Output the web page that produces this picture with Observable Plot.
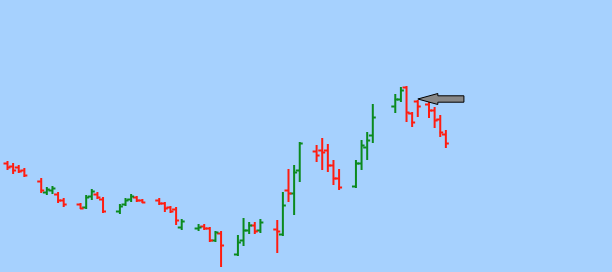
<!DOCTYPE html>
<html>
<head>
<meta charset="utf-8">
<script src="https://cdn.jsdelivr.net/npm/d3@7"></script>
<script src="https://cdn.jsdelivr.net/npm/@observablehq/plot@0.6"></script>
<style>
  html, body { margin: 0; padding: 0; background: #a6d1fe; }
  #chart svg { display: block; }
</style>
</head>
<body>
<div id="chart"></div>
<script>
// Session offsets (calendar days from the first bar)
const day = [0,1,2,3, 6,7,8,9,10, 13,14,15,16,17, 20,21,22,23,24, 27,28,29,30,31,
             34,35,36,37,38, 41,42,43,44,45, 48,49,50,51,52, 55,56,57,58,59,
             62,63,64,65, 69,70,71,72,73, 75,76,77,78];
const open  = [154.5,153,152.5,151, 145.5,140,141,139,136, 134,132.5,138,139,136.5,
               130.5,134,136.5,137.5,136, 136,134.5,132.5,131.5,122.5,
               122,123,122,116,119.5, 109,116,121,123.5,121, 121.5,119,141,139.5,151,
               160.5,161,161,153.5,147, 143,154.5,162.5,168.5, 183,186.5,192.5,179.5,185.5,
               184,181,176.5,169];
const high  = [155.5,154.5,153.5,152, 147,142.5,143,140,137, 134.5,138.5,141.5,140,137.5,
               134,137,139,138,136.5, 137,135,133,132.5,126.5,
               124,124,122.5,120.5,120.5, 118.5,127,125,125,126.5, 126,140,151.5,153.5,165,
               163.5,167,164,156,151.5, 156,166,170,184, 189,192.5,193,180,186,
               185,182.5,178.5,171];
const low   = [151,149,149.5,147.5, 139.5,138.5,139,134.5,132.5, 131.5,131.5,136,136.5,129.5,
               129,133,135,135,134.5, 133.5,130,129.5,123.5,121,
               120.5,121,115,115,102.5, 108,113,119,119,119.5, 109.5,118,135,128.5,145,
               155,151,150,143.5,141, 142,151,156,164.5, 179.5,185,175,172.5,177.5,
               177,172,167.5,162];
const close = [152.5,151,150.5,148.5, 141,141.5,142,136,134, 132,137.5,140.5,137.5,130.5,
               133,136,138,136,135, 134.5,132,130.5,126,125.5,
               122.5,122,116,120,113.5, 115,121,123.5,120.5,125, 120.5,133.5,139.5,150,164.5,
               158.5,160,153.5,147,142.5, 154.5,163.5,166,177.5, 186.5,191,180,175,183,
               181,176,170,164.5];

// Annotation arrow: tip position and length (in days)
const noteDay = [73.1];
const notePrice = [186.5];
const noteLength = [8.2];

const bars = day.map((d, i) => ({
  day: d, open: open[i], high: high[i], low: low[i], close: close[i],
  up: close[i] >= open[i]
}));
const notes = noteDay.map((d, i) => ({day: d, price: notePrice[i], length: noteLength[i]}));

const upColor = "#0b8a1e";
const downColor = "#ff1c10";
const tickHalf = 0.62;
const color = d => d.up ? upColor : downColor;

// Block arrow drawn through the chart scales
function blockArrow(index, scales) {
  const g = d3.create("svg:g");
  for (const n of notes) {
    const x0 = scales.x(n.day), y0 = scales.y(n.price);
    const x1 = scales.x(n.day + n.length);
    const headLen = 20, headH = 5.5, shaftH = 3.2;
    const pts = [
      [x0, y0],
      [x0 + headLen, y0 - headH],
      [x0 + headLen, y0 - shaftH],
      [x1, y0 - shaftH],
      [x1, y0 + shaftH],
      [x0 + headLen, y0 + shaftH],
      [x0 + headLen, y0 + headH]
    ];
    g.append("polygon")
      .attr("points", pts.map(p => p.join(",")).join(" "))
      .attr("fill", "#878787")
      .attr("stroke", "#000")
      .attr("stroke-width", 1)
      .attr("stroke-linejoin", "miter");
  }
  return g.node();
}

const chart = Plot.plot({
  width: 612,
  height: 272,
  margin: 0,
  x: {domain: [-1.245, 107.65], axis: null},
  y: {domain: [100, 236], axis: null},
  style: {background: "#a6d1fe", overflow: "visible"},
  marks: [
    Plot.ruleX(bars, {x: "day", y1: "low", y2: "high", stroke: color, strokeWidth: 2}),
    Plot.ruleY(bars, {y: "open", x1: d => d.day - tickHalf, x2: "day", stroke: color, strokeWidth: 2}),
    Plot.ruleY(bars, {y: "close", x1: "day", x2: d => d.day + tickHalf, stroke: color, strokeWidth: 2}),
    blockArrow
  ]
});
document.getElementById("chart").append(chart);
</script>
</body>
</html>
